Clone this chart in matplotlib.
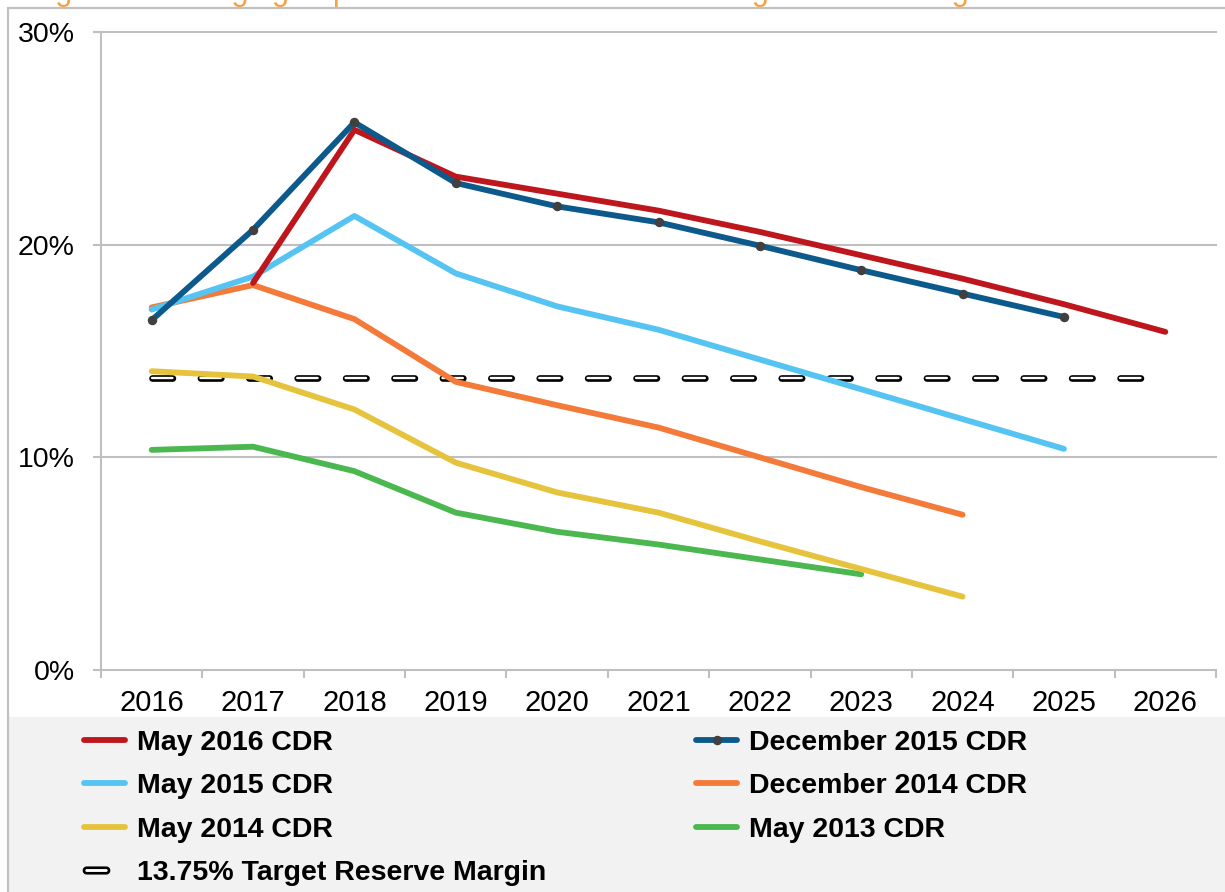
import numpy as np
import matplotlib
matplotlib.use("Agg")
import matplotlib.pyplot as plt
from matplotlib.lines import Line2D
from matplotlib.path import Path
from matplotlib.patches import Rectangle

plt.rcParams['font.family'] = ['Liberation Sans', 'DejaVu Sans']
plt.rcParams['lines.scale_dashes'] = False

# data, reserve margin in %
years = list(range(2016, 2027))
may2016 = [None, 18.2, 25.4, 23.2, 22.4, 21.6, 20.6, 19.5, 18.4, 17.2, 15.9]
dec2015 = [16.45, 20.7, 25.75, 22.9, 21.8, 21.05, 19.95, 18.8, 17.7, 16.6, None]
may2015 = [16.95, 18.5, 21.35, 18.65, 17.1, 16.0, 14.6, 13.2, 11.8, 10.4, None]
dec2014 = [17.05, 18.1, 16.5, 13.55, 12.45, 11.4, 10.0, 8.6, 7.3, None, None]
may2014 = [14.05, 13.8, 12.25, 9.75, 8.35, 7.4, 6.05, 4.75, 3.45, None, None]
may2013 = [10.35, 10.5, 9.35, 7.4, 6.5, 5.9, 5.2, 4.5, None, None, None]
target = 13.75

yticks = [0, 10, 20, 30]
ytick_labels = ['0%', '10%', '20%', '30%']


def series(vals):
    x = [y for y, v in zip(years, vals) if v is not None]
    v = [v for v in vals if v is not None]
    return x, v


W, H = 1225, 892
fig = plt.figure(figsize=(W / 100, H / 100), dpi=100)
fig.patch.set_facecolor('white')

# gray legend panel and outer frame
fig.add_artist(Rectangle((8 / W, 0), 1, (H - 717) / H, transform=fig.transFigure,
                         facecolor='#f2f2f2', edgecolor='none', zorder=0))
fig.add_artist(Rectangle((8 / W, -0.01), 1.0, (H - 8) / H + 0.01, transform=fig.transFigure,
                         facecolor='none', edgecolor='#c0c0c0', lw=1.6, zorder=1))

# cut off orange title at the very top
fig.text(30 / W, 1.0, "Figure 3: Changing Expectations of ERCOT's Planning Reserve Margin",
         color='#f5a142', fontsize=22, va='baseline', ha='left')

ax = fig.add_axes([101 / W, (H - 670) / H, (1216 - 101) / W, (670 - 32) / H])
ax.set_xlim(2015.5, 2026.5)
ax.set_ylim(0, 30)

grid_c = '#bfbfbf'
for yv in yticks[1:]:
    ax.axhline(yv, color=grid_c, lw=1.5, zorder=1, clip_on=False)

for s in ['top', 'right']:
    ax.spines[s].set_visible(False)
for s in ['left', 'bottom']:
    ax.spines[s].set_color(grid_c)
    ax.spines[s].set_linewidth(1.5)

ax.set_yticks(yticks)
ax.set_yticklabels(ytick_labels)
ax.tick_params(axis='y', length=6, width=1.5, color=grid_c, labelsize=20.5, pad=13)

ax.set_xticks(np.arange(2015.5, 2027, 1))
ax.set_xticklabels([])
ax.set_xticks(years, minor=True)
ax.set_xticklabels([str(y) for y in years], minor=True)
ax.tick_params(axis='x', which='major', length=6, width=1.5, color=grid_c)
ax.tick_params(axis='x', which='minor', length=0, labelsize=21, pad=14)

# target reserve margin: black outlined white dashes
dash = (0, (14.7, 20.15))
tx = [years[0], years[-1]]
ax.plot(tx, [target, target], color='black', lw=4.8, linestyle=dash,
        dash_capstyle='round', zorder=2)
ax.plot(tx, [target, target], color='white', lw=1.7, linestyle=dash,
        dash_capstyle='round', zorder=2)

lw = 4.2
lines = [
    (may2013, '#4bb84f'),
    (may2014, '#e6c33d'),
    (dec2014, '#f47a3a'),
    (may2015, '#56c4f2'),
    (may2016, '#be161d'),
]
for vals, c in lines:
    x, v = series(vals)
    ax.plot(x, v, color=c, lw=lw, solid_capstyle='round', solid_joinstyle='round', zorder=3)

x, v = series(dec2015)
ax.plot(x, v, color='#0c5a8c', lw=lw, solid_capstyle='round', solid_joinstyle='round',
        zorder=4, marker='o', markersize=5.8, markerfacecolor='#404040',
        markeredgecolor='#404040')

# legend
# stadium shaped marker for the target dash in the legend
t = np.linspace(-np.pi / 2, np.pi / 2, 12)
r = 0.11
right = np.column_stack([0.5 - r + r * np.cos(t), r * np.sin(t)])
left = np.column_stack([-0.5 + r - r * np.cos(t), -r * np.sin(t)])
verts = np.vstack([right, left, right[:1]])
stadium = Path(verts, closed=True)

h16 = Line2D([], [], color='#be161d', lw=lw, solid_capstyle='round')
h15 = Line2D([], [], color='#56c4f2', lw=lw, solid_capstyle='round')
h14 = Line2D([], [], color='#e6c33d', lw=lw, solid_capstyle='round')
hd15 = Line2D([], [], color='#0c5a8c', lw=lw, solid_capstyle='round', marker='o',
              markersize=5.8, markerfacecolor='#404040', markeredgecolor='#404040')
hd14 = Line2D([], [], color='#f47a3a', lw=lw, solid_capstyle='round')
h13 = Line2D([], [], color='#4bb84f', lw=lw, solid_capstyle='round')
ht = Line2D([], [], linestyle='none', marker=stadium, markersize=18,
            markerfacecolor='white', markeredgecolor='black', markeredgewidth=1.9)

fs = 20.5
fs_px = fs * 100 / 72
common = dict(frameon=False, loc='upper left', handlelength=41 / fs_px,
              handletextpad=12 / fs_px, labelspacing=0.61, borderpad=0, borderaxespad=0,
              prop={'size': fs, 'weight': 'bold'})
leg1 = fig.legend([h16, h15, h14, ht],
                  ['May 2016 CDR', 'May 2015 CDR', 'May 2014 CDR', '13.75% Target Reserve Margin'],
                  bbox_to_anchor=(84 / W, (H - 730) / H), **common)
fig.legend([hd15, hd14, h13],
           ['December 2015 CDR', 'December 2014 CDR', 'May 2013 CDR'],
           bbox_to_anchor=(696 / W, (H - 730) / H), **common)

# the target handle sits near the left end of its slot in the reference
ht_leg = leg1.legend_handles[3]
x0, x1 = ht_leg.get_xdata()[0], ht_leg.get_xdata()[-1]
ht_leg.set_xdata([x0 + 0.3 * (x1 - x0)])

fig.savefig('out.png', dpi=100)
